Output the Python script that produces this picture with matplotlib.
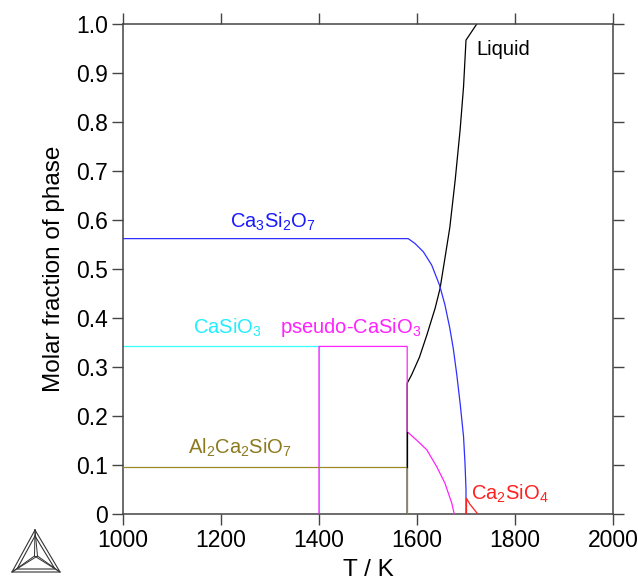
import matplotlib
matplotlib.use("Agg")
import matplotlib.pyplot as plt
from matplotlib.lines import Line2D

plt.rcParams['font.family'] = ['Liberation Sans', 'DejaVu Sans']
plt.rcParams['mathtext.fontset'] = 'custom'
plt.rcParams['mathtext.rm'] = 'Liberation Sans'

# phase fractions (T in K, molar fraction)
liquid_T = [1580, 1580, 1589, 1605, 1620, 1637, 1647, 1657, 1667, 1678, 1688, 1695, 1700, 1722]
liquid_f = [0.0, 0.267, 0.284, 0.32, 0.365, 0.42, 0.46, 0.522, 0.585, 0.682, 0.784, 0.872, 0.967, 1.0]

c3s2_T = [1000, 1582, 1596, 1613, 1630, 1646, 1657, 1667, 1674, 1681, 1688, 1695, 1698, 1700, 1700]
c3s2_f = [0.562, 0.562, 0.552, 0.535, 0.508, 0.467, 0.427, 0.379, 0.338, 0.286, 0.226, 0.158, 0.103, 0.05, 0.0]

casio3_T = [1000, 1400, 1400]
casio3_f = [0.342, 0.342, 0.0]

pseudo_T = [1400, 1400, 1580, 1580, 1599, 1620, 1640, 1657, 1671, 1676]
pseudo_f = [0.0, 0.342, 0.342, 0.168, 0.151, 0.131, 0.097, 0.063, 0.022, 0.0]

al2_T = [1000, 1580, 1580]
al2_f = [0.096, 0.096, 0.0]

c2s_T = [1701, 1701, 1708, 1724]
c2s_f = [0.0, 0.032, 0.02, 0.0]

# short black piece of the liquid branch at 1580 K
liq_seg_T = [1580, 1580]
liq_seg_f = [0.096, 0.168]

fig = plt.figure(figsize=(6.38, 5.82), dpi=100)
ax = fig.add_axes([0.1928, 0.1168, 0.768, 0.842])

lw = 0.9
ax.plot(liquid_T, liquid_f, color='black', lw=lw, zorder=1)
ax.plot(c3s2_T, c3s2_f, color='#2f2fff', lw=lw, zorder=2)
ax.plot(casio3_T, casio3_f, color='#33ffff', lw=lw, zorder=2)
ax.plot(pseudo_T, pseudo_f, color='#ff22ff', lw=lw, zorder=3)
ax.plot(al2_T, al2_f, color='#9c8a2a', lw=lw, zorder=3)
ax.plot(liq_seg_T, liq_seg_f, color='black', lw=lw, zorder=4)
ax.plot(c2s_T, c2s_f, color='#ff2020', lw=lw, zorder=3)

fs = 14.5
ax.text(1722, 0.947, 'Liquid', color='black', fontsize=fs, va='center', ha='left')
ax.text(1306, 0.597, r'$\mathregular{Ca_3Si_2O_7}$', color='#1a1aff', fontsize=fs, ha='center', va='center')
ax.text(1212, 0.38, r'$\mathregular{CaSiO_3}$', color='#22eeff', fontsize=fs, ha='center', va='center')
ax.text(1320, 0.38, r'$\mathregular{pseudo\text{-}CaSiO_3}$', color='#ff22ff', fontsize=fs, ha='left', va='center')
ax.text(1239, 0.136, r'$\mathregular{Al_2Ca_2SiO_7}$', color='#8c7a20', fontsize=fs, ha='center', va='center')
ax.text(1711, 0.042, r'$\mathregular{Ca_2SiO_4}$', color='#ff2020', fontsize=fs, ha='left', va='center')

ax.set_xlim(1000, 2000)
ax.set_ylim(0, 1.0)
ax.set_xticks([1000, 1200, 1400, 1600, 1800, 2000])
ax.set_yticks([0, 0.1, 0.2, 0.3, 0.4, 0.5, 0.6, 0.7, 0.8, 0.9, 1.0])
ax.set_yticklabels(['0', '0.1', '0.2', '0.3', '0.4', '0.5', '0.6', '0.7', '0.8', '0.9', '1.0'])
ax.tick_params(direction='out', length=8, width=1, color='#444444', labelsize=16.5,
               top=True, right=True, pad=3)
for s in ax.spines.values():
    s.set_color('#444444')
    s.set_linewidth(1.1)

ax.set_xlabel('T / K', fontsize=17.5, labelpad=5)
ax.set_ylabel('Molar fraction of phase', fontsize=17.5, labelpad=8)

# Thermo-Calc style logo in the lower left corner (pixel coords -> figure fraction)
W, H = 638.0, 582.0
def P(x, y):
    return x / W, 1 - y / H

apex, left, right = (35, 530), (12, 572), (60, 572)
cen = (36, 556)
outer = [apex, left, right, apex]
inner = [(35, 536), (17, 569), (55, 569), (35, 536)]
for pts in (outer, inner):
    xs = [P(*p)[0] for p in pts]
    ys = [P(*p)[1] for p in pts]
    fig.add_artist(Line2D(xs, ys, color='#333333', lw=0.8))
for v in (apex, left, right):
    for d in (-1.5, 1.5):
        a = P(cen[0] + d, cen[1])
        b = P(*v)
        fig.add_artist(Line2D([a[0], b[0]], [a[1], b[1]], color='#333333', lw=0.7))

fig.savefig('out.png', dpi=100)
